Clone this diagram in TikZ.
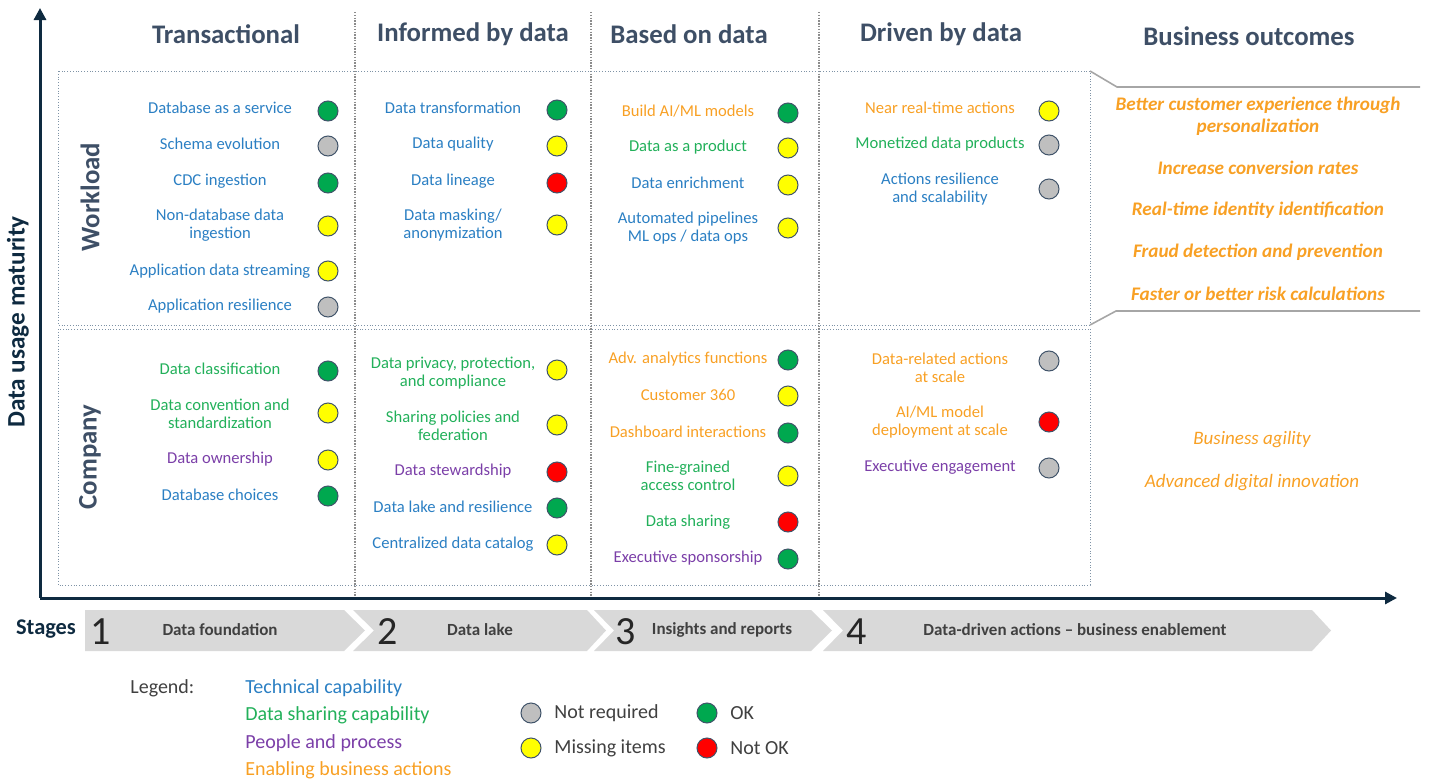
\documentclass[tikz,border=0pt]{standalone}
\usepackage{fontspec}
\setmainfont{Carlito}
\usetikzlibrary{arrows.meta}

\definecolor{headgray}{HTML}{3E4F66}
\definecolor{axisblue}{HTML}{0E2A40}
\definecolor{techblue}{HTML}{2B7FC3}
\definecolor{sharegreen}{HTML}{22B05A}
\definecolor{peoplepurple}{HTML}{7B3FA8}
\definecolor{bizorange}{HTML}{F8A024}
\definecolor{dotline}{HTML}{41546A}
\definecolor{okfill}{HTML}{00A84F}
\definecolor{notokfill}{HTML}{FF0000}
\definecolor{missfill}{HTML}{FFFF00}
\definecolor{nreqfill}{HTML}{BFBFBF}
\definecolor{boxline}{HTML}{7F93A6}
\definecolor{sepgray}{HTML}{8C8C8C}
\definecolor{stagefill}{HTML}{D9D9D9}

\tikzset{
  item/.style={align=center, inner sep=0pt, font=\fontsize{8.3}{9}\selectfont},
  tech/.style={item, text=techblue},
  share/.style={item, text=sharegreen},
  people/.style={item, text=peoplepurple},
  biz/.style={item, text=bizorange},
  dotnode/.style={circle, draw=dotline, line width=0.5pt, minimum size=10pt, inner sep=0pt},
  okdot/.style={dotnode, fill=okfill},
  notokdot/.style={dotnode, fill=notokfill},
  missdot/.style={dotnode, fill=missfill},
  nreqdot/.style={dotnode, fill=nreqfill},
  header/.style={font=\fontsize{13.4}{15}\selectfont\bfseries, text=headgray},
  outcome/.style={font=\fontsize{9.6}{11}\selectfont\bfseries\itshape, text=bizorange, align=center},
  stagebox/.style={fill=stagefill, draw=none},
  stagenum/.style={font=\fontsize{20}{22}\selectfont, text=black!85},
  stagelabel/.style={font=\fontsize{8.5}{10}\selectfont\bfseries, text=black!75},
  legendtext/.style={font=\fontsize{10}{12}\selectfont, anchor=west, inner sep=0pt}
}

\begin{document}
\begin{tikzpicture}[x=0.5pt,y=-0.5pt]
\useasboundingbox (0,0) rectangle (1432,782);

% separators and boxes
\draw [sepgray, line width=1.3pt, dash pattern=on 0.7pt off 0.7pt] (355,12) -- (355,598);
\draw [sepgray, line width=1.3pt, dash pattern=on 0.7pt off 0.7pt] (591,12) -- (591,598);
\draw [sepgray, line width=1.3pt, dash pattern=on 0.7pt off 0.7pt] (819,12) -- (819,598);
\draw [boxline, line width=0.4pt, densely dotted] (58,71) rectangle (1090,325);
\draw [boxline, line width=0.4pt, densely dotted] (58,329) rectangle (1090,585);

% axes
\coordinate (origin) at (40,598);
\coordinate (ytop) at (40,8);
\coordinate (xend) at (1397,598);
\draw [axisblue, line width=1.5pt, -{Triangle[length=6pt,width=6pt]}] (origin) -- (ytop);
\draw [axisblue, line width=1.5pt, -{Triangle[length=6pt,width=6pt]}] (origin) -- (xend);
\node (maturity) [rotate=90, font=\fontsize{12.6}{14}\selectfont\bfseries, text=axisblue] at (18,322) {Data usage maturity};

% column headers
\node (transactional) [header] at (226,34) {Transactional};
\node (informed) [header] at (473,34) {Informed by data};
\node (based) [header] at (689,34) {Based on data};
\node (driven) [header] at (941,34) {Driven by data};
\node (outcomes) [header] at (1249,36) {Business outcomes};

% row labels
\node (workload) [rotate=90, font=\fontsize{13.4}{15}\selectfont\bfseries, text=headgray] at (90,197) {Workload};
\node (company) [rotate=90, font=\fontsize{13.4}{15}\selectfont\bfseries, text=headgray] at (90,457) {Company};

% transactional, workload
\node (dbaas) [tech] at (220,108) {Database as a service};
\node (dbaasd) [okdot] at (328,111) {};
\node (schema) [tech] at (220,144) {Schema evolution};
\node (schemad) [nreqdot] at (328,146) {};
\node (cdc) [tech] at (220,181) {CDC ingestion};
\node (cdcd) [okdot] at (328,183) {};
\node (nondb) [tech] at (220,225) {Non-database data\\ingestion};
\node (nondbd) [missdot] at (328,226) {};
\node (appstream) [tech] at (220,271) {Application data streaming};
\node (appstreamd) [missdot] at (328,271) {};
\node (appres) [tech] at (220,306) {Application resilience};
\node (appresd) [nreqdot] at (328,307) {};

% transactional, company
\node (classif) [share] at (220,369) {Data classification};
\node (classifd) [okdot] at (328,371) {};
\node (convention) [share] at (220,414) {Data convention and\\standardization};
\node (conventiond) [missdot] at (328,413) {};
\node (ownership) [people] at (220,459) {Data ownership};
\node (ownershipd) [missdot] at (328,460) {};
\node (dbchoice) [tech] at (220,495) {Database choices};
\node (dbchoiced) [okdot] at (328,496) {};

% informed by data, workload
\node (transform) [tech] at (453,108) {Data transformation};
\node (transformd) [okdot] at (557,110) {};
\node (quality) [tech] at (453,144) {Data quality};
\node (qualityd) [missdot] at (557,146) {};
\node (lineage) [tech] at (453,181) {Data lineage};
\node (lineaged) [notokdot] at (557,183) {};
\node (masking) [tech] at (453,225) {Data masking/\\anonymization};
\node (maskingd) [missdot] at (557,225) {};

% informed by data, company
\node (privacy) [share] at (453,373) {Data privacy, protection,\\and compliance};
\node (privacyd) [missdot] at (557,370) {};
\node (sharingpol) [share] at (453,426) {Sharing policies and\\federation};
\node (sharingpold) [missdot] at (557,425) {};
\node (steward) [people] at (453,471) {Data stewardship};
\node (stewardd) [notokdot] at (557,472) {};
\node (lakeres) [tech] at (453,507) {Data lake and resilience};
\node (lakeresd) [okdot] at (557,508) {};
\node (catalog) [tech] at (453,544) {Centralized data catalog};
\node (catalogd) [missdot] at (557,545) {};

% based on data, workload
\node (aiml) [biz] at (688,111) {Build AI/ML models};
\node (aimld) [okdot] at (788,113) {};
\node (product) [share] at (688,147) {Data as a product};
\node (productd) [missdot] at (788,148) {};
\node (enrich) [tech] at (688,183) {Data enrichment};
\node (enrichd) [missdot] at (788,185) {};
\node (pipelines) [tech] at (688,228) {Automated pipelines\\ML ops / data ops};
\node (pipelinesd) [missdot] at (788,228) {};

% based on data, company
\node (advanalytics) [biz] at (688,359) {Adv. analytics functions};
\node (advanalyticsd) [okdot] at (788,360) {};
\node (cust360) [biz] at (688,395) {Customer 360};
\node (cust360d) [missdot] at (788,396) {};
\node (dashboard) [biz] at (688,432) {Dashboard interactions};
\node (dashboardd) [okdot] at (788,433) {};
\node (finegrained) [share] at (688,476) {Fine-grained\\access control};
\node (finegrainedd) [missdot] at (788,476) {};
\node (datashare) [share] at (688,522) {Data sharing};
\node (datashared) [notokdot] at (788,522) {};
\node (sponsor) [people] at (688,558) {Executive sponsorship};
\node (sponsord) [okdot] at (788,559) {};

% driven by data, workload
\node (nearrt) [biz] at (940,108) {Near real-time actions};
\node (nearrtd) [missdot] at (1049,111) {};
\node (monetized) [share] at (940,144) {Monetized data products};
\node (monetizedd) [nreqdot] at (1049,145) {};
\node (actres) [tech] at (940,189) {Actions resilience\\and scalability};
\node (actresd) [nreqdot] at (1049,189) {};

% driven by data, company
\node (dataactions) [biz] at (940,368) {Data-related actions\\at scale};
\node (dataactionsd) [nreqdot] at (1049,361) {};
\node (mldeploy) [biz] at (940,422) {AI/ML model\\deployment at scale};
\node (mldeployd) [notokdot] at (1049,422) {};
\node (engage) [people] at (940,467) {Executive engagement};
\node (engaged) [nreqdot] at (1049,468) {};

% business outcomes
\draw [black!35, line width=0.8pt] (1090,71) -- (1117,87) -- (1420,87);
\draw [black!35, line width=0.8pt] (1090,325) -- (1116,311) -- (1420,311);
\node (custexp) [outcome] at (1258,116) {Better customer experience through\\personalization};
\node (conversion) [outcome] at (1258,168) {Increase conversion rates};
\node (identity) [outcome] at (1258,210) {Real-time identity identification};
\node (fraud) [outcome] at (1258,252) {Fraud detection and prevention};
\node (risk) [outcome] at (1258,294) {Faster or better risk calculations};
\node (agility) [outcome, font=\fontsize{9.5}{11}\selectfont\itshape] at (1252,440) {Business agility};
\node (innovation) [outcome, font=\fontsize{9.5}{11}\selectfont\itshape] at (1252,483) {Advanced digital innovation};

% stages
\node (stages) [font=\fontsize{11.2}{13}\selectfont\bfseries, text=axisblue] at (46,629) {Stages};
\fill [stagebox] (85,610) -- (344,610) -- (365,630.5) -- (344,651) -- (85,651) -- cycle;
\fill [stagebox] (353,610) -- (587,610) -- (606,630.5) -- (587,651) -- (353,651) -- (374,630.5) -- cycle;
\fill [stagebox] (594,610) -- (811,610) -- (832,630.5) -- (811,651) -- (594,651) -- (614,630.5) -- cycle;
\fill [stagebox] (823,610) -- (1312,610) -- (1331,630.5) -- (1312,651) -- (823,651) -- (843,630.5) -- cycle;
\node (num1) [stagenum] at (101,632) {1};
\node (num2) [stagenum] at (388,632) {2};
\node (num3) [stagenum] at (626,632) {3};
\node (num4) [stagenum] at (857,632) {4};
\node (stage1) [stagelabel] at (220,630) {Data foundation};
\node (stage2) [stagelabel] at (480,630) {Data lake};
\node (stage3) [stagelabel] at (722,630) {Insights and reports};
\node (stage4) [stagelabel] at (1075,630) {Data-driven actions -- business enablement};

% legend
\node (legend) [legendtext, text=black!75] at (130,688) {Legend:};
\node (legtech) [legendtext, text=techblue] at (245,688) {Technical capability};
\node (legshare) [legendtext, text=sharegreen] at (245,715) {Data sharing capability};
\node (legpeople) [legendtext, text=peoplepurple] at (245,743) {People and process};
\node (legbiz) [legendtext, text=bizorange] at (245,770) {Enabling business actions};
\node (legnreqd) [nreqdot] at (531,713) {};
\node (legnreq) [legendtext, text=black!75] at (554,713) {Not required};
\node (legmissd) [missdot] at (531,748) {};
\node (legmiss) [legendtext, text=black!75] at (554,748) {Missing items};
\node (legokd) [okdot] at (707,713) {};
\node (legok) [legendtext, text=black!75] at (730,713) {OK};
\node (legnotokd) [notokdot] at (707,748) {};
\node (legnotok) [legendtext, text=black!75] at (730,748) {Not OK};
\end{tikzpicture}
\end{document}
